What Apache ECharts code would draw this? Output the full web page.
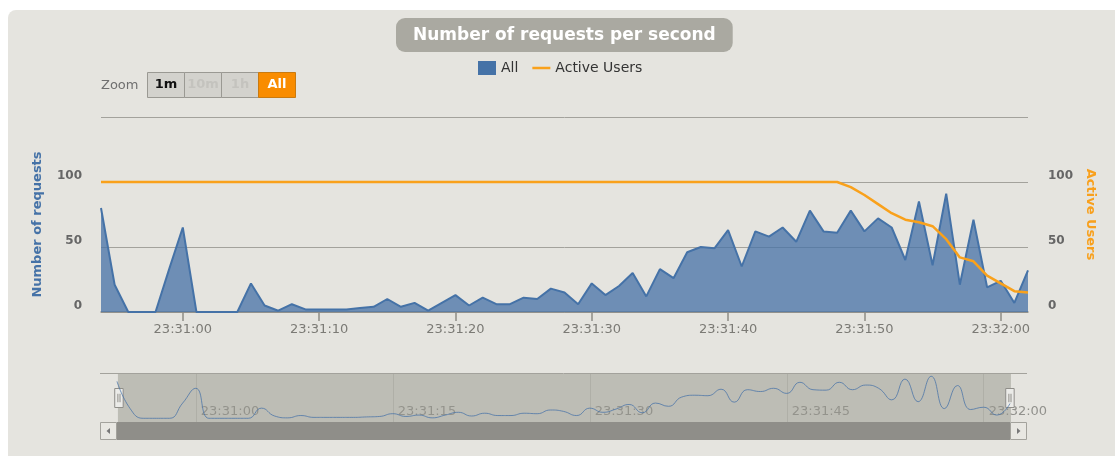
<!DOCTYPE html>
<html>
<head>
<meta charset="utf-8" />
<title>Number of requests per second</title>
<script src="https://cdn.jsdelivr.net/npm/echarts@6/dist/echarts.min.js"></script>
<style>
    body { margin: 0; background: #fff; overflow: hidden; }
    #panel { position: absolute; left: 8px; top: 10px; width: 1130px; height: 470px; background: #e5e4df; border-radius: 8px; }
    #main { position: absolute; left: 0; top: 0; width: 1115px; height: 456px; }
</style>
</head>
<body>
<div id="panel"></div>
<div id="main"></div>
<script type="text/javascript">
var times = ['23:30:54','23:30:55','23:30:56','23:30:57','23:30:58','23:30:59',
    '23:31:00','23:31:01','23:31:02','23:31:03','23:31:04','23:31:05','23:31:06','23:31:07','23:31:08','23:31:09',
    '23:31:10','23:31:11','23:31:12','23:31:13','23:31:14','23:31:15','23:31:16','23:31:17','23:31:18','23:31:19',
    '23:31:20','23:31:21','23:31:22','23:31:23','23:31:24','23:31:25','23:31:26','23:31:27','23:31:28','23:31:29',
    '23:31:30','23:31:31','23:31:32','23:31:33','23:31:34','23:31:35','23:31:36','23:31:37','23:31:38','23:31:39',
    '23:31:40','23:31:41','23:31:42','23:31:43','23:31:44','23:31:45','23:31:46','23:31:47','23:31:48','23:31:49',
    '23:31:50','23:31:51','23:31:52','23:31:53','23:31:54','23:31:55','23:31:56','23:31:57','23:31:58','23:31:59',
    '23:32:00','23:32:01','23:32:02'];
var allRequests = [80,21,0,0,0,33,65,0,0,0,
    0,22,5,1,6,2,2,2,2,3,
    4,10,4,7,1,7,13,5,11,6,
    6,11,10,18,15,6,22,13,20,30,
    12,33,26,46,50,49,63,35,62,58,
    65,54,78,62,61,78,62,72,65,40,
    85,36,91,21,71,19,24,7,32];
var activeUsers = [100,100,100,100,100,100,100,100,100,100,
    100,100,100,100,100,100,100,100,100,100,
    100,100,100,100,100,100,100,100,100,100,
    100,100,100,100,100,100,100,100,100,100,
    100,100,100,100,100,100,100,100,100,100,
    100,100,100,100,100,96,90,83,76,71,
    69,66,56,42,39,28,22,16,15];
var mainTickLabels = ['23:31:00','23:31:10','23:31:20','23:31:30','23:31:40','23:31:50','23:32:00'];
var navTickLabels = ['23:31:00','23:31:15','23:31:30','23:31:45','23:32:00'];
var yTicks = [0, 50, 100, 150];
var zoomButtons = ['1m', '10m', '1h', 'All'];

var chart = echarts.init(document.getElementById('main'));
var font = 'DejaVu Sans';

function isMainTick(index, value) { return mainTickLabels.indexOf(value) >= 0; }
function isNavTick(index, value) { return navTickLabels.indexOf(value) >= 0; }
function yLabel(v) { return v === yTicks[yTicks.length - 1] ? '' : String(v); }

// range selector buttons (Zoom 1m 10m 1h All)
var btnGraphics = [{
    type: 'text', left: 101, top: 79,
    style: { text: 'Zoom', fill: '#6f6f6f', font: '13px "DejaVu Sans"' }
}];
zoomButtons.forEach(function (b, i) {
    var x = 147 + i * 37;
    var active = b === 'All';
    btnGraphics.push({
        type: 'rect', shape: { x: x + 0.5, y: 72.5, width: 37, height: 25 },
        style: { fill: active ? '#f98c00' : '#d3d2cd', stroke: active ? '#c97a10' : '#9a9993', lineWidth: 1 }
    });
    btnGraphics.push({
        type: 'text', x: x + 19, y: 85,
        style: {
            text: b, align: 'center', verticalAlign: 'middle',
            font: 'bold 13px "DejaVu Sans"',
            fill: active ? '#ffffff' : (b === '1m' ? '#111111' : '#c4c3be')
        }
    });
});

// navigator outline + scrollbar
var navGraphics = [
    { type: 'line', shape: { x1: 100, y1: 373.5, x2: 1027, y2: 373.5 }, style: { stroke: '#a3a29c', lineWidth: 1 } },
    { type: 'rect', shape: { x: 117, y: 422, width: 893, height: 18 }, style: { fill: '#8f8e89' } },
    { type: 'rect', shape: { x: 100.5, y: 422.5, width: 16, height: 17 }, style: { fill: '#e8e7e2', stroke: '#a3a29c', lineWidth: 1 } },
    { type: 'polygon', shape: { points: [[106.5, 431], [110, 428], [110, 434]] }, style: { fill: '#777' } },
    { type: 'rect', shape: { x: 1010.5, y: 422.5, width: 16, height: 17 }, style: { fill: '#e8e7e2', stroke: '#a3a29c', lineWidth: 1 } },
    { type: 'polygon', shape: { points: [[1020.5, 431], [1017, 428], [1017, 434]] }, style: { fill: '#777' } }
];

var option = {
    animation: false,
    textStyle: { fontFamily: font },
    title: {
        text: 'Number of requests per second',
        left: 396, top: 18,
        padding: [9, 17, 8, 17],
        backgroundColor: '#aaa9a1',
        borderRadius: 9,
        textStyle: { color: '#ffffff', fontSize: 17, fontWeight: 'bold', fontFamily: font }
    },
    legend: {
        left: 478, top: 61, padding: 0,
        itemWidth: 18, itemHeight: 14, itemGap: 14,
        textStyle: { color: '#333', fontSize: 14, fontFamily: font },
        data: [{ name: 'All', icon: 'rect' }, { name: 'Active Users', icon: 'path://M0,0H18V2.5H0Z' }]
    },
    grid: [
        { left: 101, right: 87, top: 117, bottom: 144 },
        { left: 117, right: 105, top: 374, height: 48 }
    ],
    xAxis: [{
        type: 'category', gridIndex: 0, data: times, boundaryGap: false,
        axisLine: { lineStyle: { color: '#8d8c87', width: 1.5 } },
        axisTick: { interval: isMainTick, length: 9, lineStyle: { color: '#8d8c87', width: 1.5 } },
        axisLabel: { interval: isMainTick, margin: 11, color: '#7b7a75', fontSize: 13 },
        splitLine: { show: false }
    }, {
        type: 'category', gridIndex: 1, data: times, boundaryGap: false,
        axisLine: { show: false }, axisTick: { show: false },
        axisLabel: { interval: isNavTick, inside: true, align: 'left', margin: 4, padding: [0, 0, 0, 5], color: 'rgba(110,110,105,0.7)', fontSize: 13 },
        splitLine: { show: true, interval: isNavTick, lineStyle: { color: '#c9c8c2' } }
    }],
    yAxis: [{
        type: 'value', gridIndex: 0, min: 0, max: 150, interval: 50,
        name: 'Number of requests', nameLocation: 'middle', nameGap: 57, nameRotate: 90,
        nameTextStyle: { color: '#4572a7', fontWeight: 'bold', fontSize: 13, padding: [0, 20, 0, 0] },
        axisLine: { show: false }, axisTick: { show: false },
        axisLabel: { margin: 19, color: '#666', fontWeight: 'bold', fontSize: 12, verticalAlign: 'bottom', formatter: yLabel },
        splitLine: { lineStyle: { color: '#a3a29c' } }
    }, {
        type: 'value', gridIndex: 0, min: 0, max: 150, interval: 50, position: 'right',
        name: 'Active Users', nameLocation: 'middle', nameGap: 55, nameRotate: -90,
        nameTextStyle: { color: '#f8a01d', fontWeight: 'bold', fontSize: 13 },
        axisLine: { show: false }, axisTick: { show: false },
        axisLabel: { margin: 20, color: '#666', fontWeight: 'bold', fontSize: 12, verticalAlign: 'bottom', formatter: yLabel },
        splitLine: { show: false }
    }, {
        type: 'value', gridIndex: 1, min: -8, max: 96,
        show: false
    }],
    dataZoom: [{
        type: 'slider', xAxisIndex: 0, filterMode: 'none',
        left: 117, right: 105, top: 374, height: 48,
        start: 0, end: 100,
        showDataShadow: false, showDetail: false, brushSelect: false,
        backgroundColor: 'transparent', borderColor: 'transparent',
        fillerColor: 'rgba(150,149,140,0.5)',
        handleIcon: 'path://M0,0H8V18H0Z M3,5V13 M5,5V13',
        handleSize: 19,
        handleStyle: { color: '#ebebe8', borderColor: '#8f8e89', borderWidth: 1 },
        moveHandleSize: 0,
        emphasis: { handleStyle: { color: '#ebebe8', borderColor: '#8f8e89' } }
    }],
    graphic: btnGraphics.concat(navGraphics),
    series: [{
        name: 'All', type: 'line', xAxisIndex: 0, yAxisIndex: 0,
        data: allRequests, symbol: 'none',
        lineStyle: { color: '#4572a7', width: 2 },
        itemStyle: { color: '#4572a7' },
        areaStyle: { color: '#4572a7', opacity: 0.75 },
        z: 2
    }, {
        name: 'Active Users', type: 'line', xAxisIndex: 0, yAxisIndex: 1,
        data: activeUsers, symbol: 'none',
        lineStyle: { color: '#f9a11b', width: 2.5 },
        itemStyle: { color: '#f9a11b' },
        z: 3
    }, {
        name: 'navigator', type: 'line', xAxisIndex: 1, yAxisIndex: 2,
        data: allRequests, symbol: 'none', smooth: true, silent: true,
        lineStyle: { color: 'rgba(69,114,167,0.75)', width: 1 },
        z: 10
    }]
};
chart.setOption(option);
</script>
</body>
</html>
